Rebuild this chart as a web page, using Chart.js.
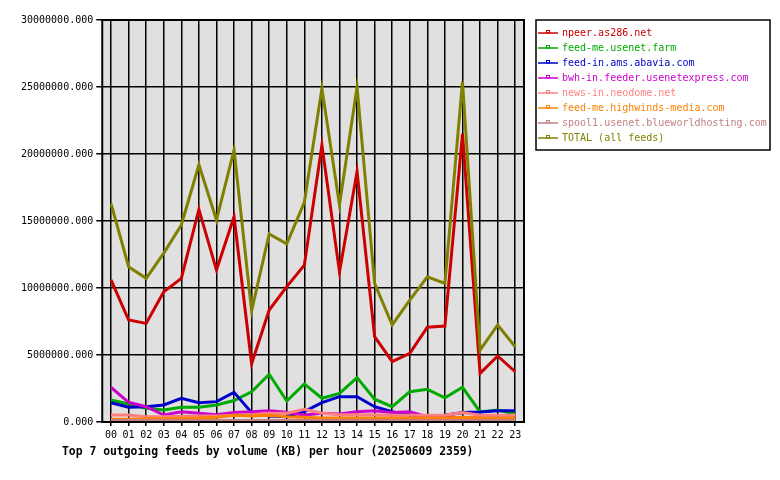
<!DOCTYPE html>
<html><head><meta charset="utf-8">
<script src="https://cdn.jsdelivr.net/npm/chart.js@4/dist/chart.umd.min.js"></script>
<style>html,body{margin:0;padding:0;background:#fff}#wrap{width:780px;height:480px}</style>
</head><body><div id="wrap"><canvas id="c" width="780" height="480"></canvas></div>
<script>
const hours = ['00','01','02','03','04','05','06','07','08','09','10','11','12','13','14','15','16','17','18','19','20','21','22','23'];
const seriesNames = ['npeer.as286.net','feed-me.usenet.farm','feed-in.ams.abavia.com','bwh-in.feeder.usenetexpress.com','news-in.neodome.net','feed-me.highwinds-media.com','spool1.usenet.blueworldhosting.com','TOTAL (all feeds)'];
const npeer = [10600000,7610000,7360000,9720000,10720000,15870000,11340000,15320000,4350000,8360000,10100000,11700000,20670000,11200000,18680000,6370000,4500000,5130000,7070000,7160000,21500000,3630000,4930000,3750000];
const usenetFarm = [1640000,1340000,1020000,900000,1100000,1100000,1270000,1600000,2260000,3560000,1570000,2840000,1770000,2140000,3310000,1700000,1140000,2260000,2440000,1810000,2590000,750000,900000,600000];
const abavia = [1440000,1100000,1140000,1270000,1770000,1440000,1520000,2210000,700000,450000,400000,770000,1440000,1890000,1890000,1140000,770000,500000,450000,500000,700000,750000,840000,840000];
const usenetExpress = [2590000,1470000,1140000,520000,770000,650000,550000,700000,770000,840000,720000,520000,650000,600000,770000,840000,700000,770000,400000,400000,320000,300000,300000,300000];
const neodome = [520000,520000,400000,400000,420000,450000,450000,500000,550000,650000,650000,950000,650000,550000,550000,550000,500000,500000,500000,500000,700000,500000,500000,500000];
const highwinds = [200000,200000,250000,250000,280000,300000,350000,500000,450000,500000,400000,350000,300000,300000,300000,300000,300000,300000,300000,300000,350000,300000,300000,300000];
const spool1 = [120000,120000,120000,120000,120000,120000,120000,120000,120000,120000,120000,120000,120000,120000,120000,120000,120000,120000,120000,120000,120000,120000,120000,120000];
const total = [16300000,11590000,10720000,12600000,14700000,19200000,15070000,20300000,8300000,14030000,13300000,16400000,24900000,16200000,25000000,10350000,7240000,9100000,10840000,10350000,25400000,5370000,7240000,5620000];
const yTicks = [0,5000000,10000000,15000000,20000000,25000000,30000000];
const chartTitle = 'Top 7 outgoing feeds by volume (KB) per hour (20250609 2359)';

const colors = ['#cc0000','#00aa00','#0000cc','#cc00cc','#ff8080','#ff8000','#c08080','#808000'];
const allData = [npeer,usenetFarm,abavia,usenetExpress,neodome,highwinds,spool1,total];
const MONO = '"DejaVu Sans Mono", monospace';

const frame = {
  id:'frame',
  beforeDraw(chart){
    const a = chart.chartArea, ctx = chart.ctx;
    ctx.save();
    ctx.fillStyle = '#e0e0e0';
    ctx.fillRect(a.left, a.top, a.right-a.left, a.bottom-a.top);
    ctx.restore();
  },
  afterDraw(chart){
    const a = chart.chartArea, ctx = chart.ctx;
    ctx.save();
    ctx.strokeStyle = '#000'; ctx.lineWidth = 2;
    ctx.strokeRect(a.left, a.top, a.right-a.left, a.bottom-a.top);
    // title
    ctx.fillStyle = '#000';
    ctx.font = 'bold 11.4px ' + MONO;
    ctx.textBaseline = 'middle';
    ctx.textAlign = 'left';
    ctx.fillText(chartTitle, 62, 452);
    // legend
    const lx = 536, ly = 20, lw = 234, lh = 130;
    ctx.lineWidth = 1.5;
    ctx.strokeRect(lx, ly, lw, lh);
    ctx.font = '10px ' + MONO;
    chart.data.datasets.forEach((ds,i)=>{
      const y = 33 + i*15;
      ctx.strokeStyle = ds.borderColor; ctx.lineWidth = 1.5;
      ctx.beginPath(); ctx.moveTo(538,y); ctx.lineTo(558,y); ctx.stroke();
      ctx.lineWidth = 1;
      ctx.strokeRect(546.5,y-2.5,3,2.5);
      ctx.fillStyle = ds.borderColor;
      ctx.fillText(ds.label, 562, y);
    });
    ctx.restore();
  }
};

new Chart(document.getElementById('c'), {
  type:'line',
  data:{
    labels: hours,
    datasets: seriesNames.map((n,i)=>({
      label:n, data:allData[i], borderColor:colors[i], backgroundColor:colors[i],
      borderWidth:3, pointRadius:0, tension:0, fill:false, order: 10-i
    }))
  },
  options:{
    responsive:false, animation:false,
    layout:{padding:{left:18,right:256,top:20,bottom:36}},
    plugins:{legend:{display:false},tooltip:{enabled:false},title:{display:false}},
    scales:{
      x:{
        offset:true,
        grid:{color:'#000',lineWidth:1.5,offset:false,tickLength:4,drawTicks:true},
        border:{display:false},
        ticks:{color:'#000',font:{family:MONO,size:10},padding:3,maxRotation:0,autoSkip:false}
      },
      y:{
        min:0,max:30000000,
        afterBuildTicks(s){ s.ticks = yTicks.map(v=>({value:v})); },
        grid:{color:'#000',lineWidth:1.5,tickLength:6},
        border:{display:false},
        ticks:{color:'#000',font:{family:MONO,size:10},padding:3,callback:v=>Number(v).toFixed(3)}
      }
    }
  },
  plugins:[frame]
});
</script></body></html>
